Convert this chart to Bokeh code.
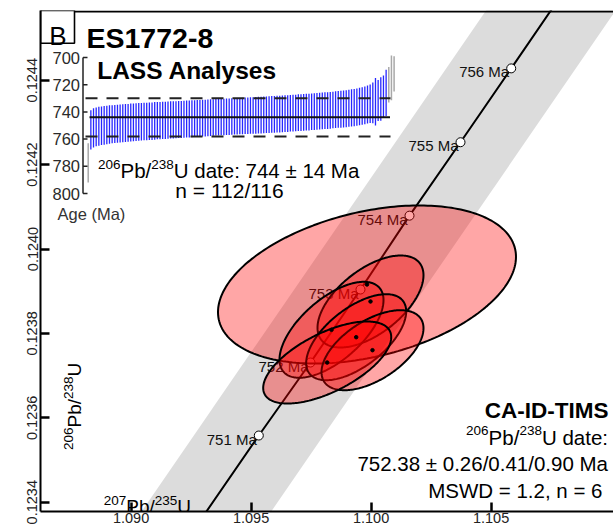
import math
import numpy as np
from bokeh.plotting import figure
from bokeh.models import Range1d, LinearAxis, Label, FixedTicker, PrintfTickFormatter
from bokeh.embed import file_html
from bokeh.resources import INLINE
from bokeh.core.properties import value

# ---------------- DATA ----------------
# CA-ID-TIMS analyses: 207Pb/235U, 2s, 206Pb/238U, 2s, rho
tims_x = [1.099829, 1.099975, 1.098350, 1.099379, 1.100058, 1.098171]
tims_sx = [0.006208, 0.002208, 0.002167, 0.002083, 0.002125, 0.002667]
tims_y = [0.1239159, 0.1238756, 0.1238085, 0.1237910, 0.1237602, 0.1237310]
tims_sy = [0.0001872, 0.0001090, 0.0001137, 0.0001019, 0.0000948, 0.0000972]
tims_rho = [0.35, 0.57, 0.62, 0.60, 0.55, 0.62]

# Concordia age markers
marker_age = [751, 752, 753, 754, 755, 756]
marker_x = [1.095321, 1.097475, 1.099558, 1.101600, 1.103725, 1.105838]
marker_y = [0.123558, 0.123731, 0.123904, 0.124079, 0.124253, 0.124428]
# concordia trace where it leaves the frame (bottom, top)
trace_x = [1.093054, 1.107575]
trace_y = [0.123371, 0.1245723]
band_halfwidth = 0.0027  # decay-constant uncertainty envelope (207/235 units)

# Axis ticks
x_ticks = [1.090, 1.095, 1.100, 1.105]
y_ticks = [0.1234, 0.1236, 0.1238, 0.1240, 0.1242, 0.1244]

# LASS ranked ages (Ma) and 2s uncertainties (accepted analyses)
lass_age = [
    753.2, 751.8, 751.0, 750.6, 750.2, 749.9, 749.6, 749.3, 749.1, 748.9,
    748.7, 748.5, 748.3, 748.1, 748.0, 747.8, 747.7, 747.5, 747.4, 747.3,
    747.1, 747.0, 746.9, 746.8, 746.6, 746.5, 746.4, 746.3, 746.2, 746.0,
    745.9, 745.8, 745.7, 745.6, 745.5, 745.4, 745.3, 745.2, 745.0, 744.9,
    744.8, 744.7, 744.6, 744.5, 744.4, 744.2, 744.1, 744.0, 743.9, 743.8,
    743.7, 743.6, 743.5, 743.4, 743.3, 743.2, 743.1, 743.0, 742.9, 742.8,
    742.7, 742.6, 742.5, 742.4, 742.3, 742.2, 742.1, 742.0, 741.9, 741.8,
    741.7, 741.6, 741.4, 741.3, 741.2, 741.0, 740.9, 740.8, 740.6, 740.5,
    740.4, 740.2, 740.1, 739.9, 739.8, 739.6, 739.5, 739.3, 739.1, 739.0,
    738.8, 738.6, 738.4, 738.2, 738.0, 737.8, 737.6, 737.3, 737.0, 736.8,
    736.5, 736.1, 735.7, 735.2, 734.6, 734.0, 733.3, 732.5, 731.6, 730.5,
    728.8, 726.0]
lass_err = [
    14.5, 14.4, 14.3, 14.3, 14.2, 14.2, 14.1, 14.1, 14.0, 14.0,
    14.0, 14.0, 14.0, 14.0, 13.9, 13.9, 13.9, 13.9, 13.9, 13.8,
    13.8, 13.8, 13.8, 13.8, 13.8, 13.7, 13.7, 13.7, 13.7, 13.7,
    13.7, 13.7, 13.6, 13.6, 13.6, 13.6, 13.6, 13.6, 13.6, 13.5,
    13.5, 13.5, 13.5, 13.5, 13.5, 13.5, 13.4, 13.4, 13.4, 13.4,
    13.4, 13.4, 13.4, 13.4, 13.4, 13.4, 13.4, 13.4, 13.4, 13.4,
    13.4, 13.4, 13.5, 13.5, 13.5, 13.5, 13.5, 13.5, 13.5, 13.5,
    13.5, 13.5, 13.5, 13.5, 13.5, 13.5, 13.5, 13.5, 13.5, 13.5,
    13.5, 13.5, 13.5, 13.5, 13.5, 13.5, 13.5, 13.5, 13.5, 13.5,
    13.5, 13.5, 13.5, 13.5, 13.6, 13.6, 13.6, 13.6, 13.7, 13.7,
    13.7, 13.8, 13.8, 13.9, 14.0, 14.2, 15.0, 17.5, 15.0, 16.0,
    15.5, 17.0]
lass_idx = list(range(2, 114))
# rejected analyses
rej_idx = [1, 114, 115, 116]
rej_age = [777.5, 720.0, 715.0, 712.0]
rej_err = [14.5, 13.0, 16.5, 13.0]
lass_mean = 744.0
lass_mean_err = 14.0
inset_ticks = [700, 720, 740, 760, 780, 800]

# ---------------- LAYOUT HELPERS ----------------
FONT = "Liberation Sans"
XA, XPX, XS = 1.090, 130.6, 24000.0   # x data <-> pixel
YA, YPX, YS = 0.1234, 501.7, 422000.0  # y data <-> pixel


def X(px):
    return XA + (px - XPX) / XS


def Y(py):
    return YA + (YPX - py) / YS


# inset (rank index / age) pixel mapping
def IX(px):
    return 1 + (px - 87.7) / 2.66


def IA(py):
    return 700 + (py - 57.0) / 1.36


p = figure(width=613, height=529, output_backend="svg", toolbar_location=None,
           x_range=Range1d(X(40), X(613)), y_range=Range1d(Y(511), Y(10)),
           min_border_left=40, min_border_right=0, min_border_top=10,
           min_border_bottom=18, x_axis_type=None, y_axis_type=None)
p.outline_line_color = None
p.background_fill_color = "white"
p.border_fill_color = "white"
p.extra_x_ranges = {"idx": Range1d(IX(40), IX(613))}
p.extra_y_ranges = {"age": Range1d(IA(511), IA(10))}

# axes
xax = LinearAxis(ticker=FixedTicker(ticks=x_ticks),
                 formatter=PrintfTickFormatter(format="%.3f"))
yax = LinearAxis(ticker=FixedTicker(ticks=y_ticks),
                 formatter=PrintfTickFormatter(format="%.4f"))
for ax in (xax, yax):
    ax.axis_line_width = 2
    ax.axis_line_color = "black"
    ax.major_tick_in = 9
    ax.major_tick_out = 0
    ax.major_tick_line_width = 2.5
    ax.minor_tick_line_color = None
    ax.major_label_text_font = FONT
    ax.major_label_text_font_size = "14.5px"
    ax.major_label_text_color = "#222222"
xax.major_label_standoff = 1
yax.major_label_standoff = 3
yax.major_label_orientation = "vertical"
p.add_layout(xax, "below")
p.add_layout(yax, "left")

# decay-constant band and concordia
conc_x = [trace_x[0]] + marker_x + [trace_x[1]]
conc_y = [trace_y[0]] + marker_y + [trace_y[1]]
band_x = [trace_x[0] - band_halfwidth, trace_x[0] + band_halfwidth,
          trace_x[1] + band_halfwidth, trace_x[1] - band_halfwidth]
band_y = [trace_y[0], trace_y[0], trace_y[1], trace_y[1]]
p.patch(band_x, band_y, fill_color="#DCDCDC", line_color=None)
p.line(conc_x, conc_y, line_color="black", line_width=2)
p.text(marker_x, marker_y, text=[f"{a} Ma" for a in marker_age],
       x_offset=-2, y_offset=3.5, text_align="right", text_baseline="alphabetic",
       text_font=value(FONT), text_font_size="15px", text_color="#111111")
p.scatter(marker_x, marker_y, size=9, fill_color="white", line_color="black",
          line_width=1)

# error ellipses
t = np.linspace(0, 2 * np.pi, 241)
exs, eys = [], []
for cx, sx, cy, sy, r in zip(tims_x, tims_sx, tims_y, tims_sy, tims_rho):
    exs.append(cx + sx * np.cos(t))
    eys.append(cy + sy * (r * np.cos(t) + np.sqrt(1 - r * r) * np.sin(t)))
p.patches(exs, eys, fill_color="#FF0000", fill_alpha=0.35, line_color="black",
          line_width=2)
p.scatter(tims_x, tims_y, size=3.5, color="black")

# top frame edge
p.segment([X(40)], [Y(11)], [X(613)], [Y(11)], line_color="black", line_width=2.2)

# ---------------- INSET (LASS) ----------------
kw = dict(x_range_name="idx", y_range_name="age")
p.segment(lass_idx, [a - e for a, e in zip(lass_age, lass_err)],
          lass_idx, [a + e for a, e in zip(lass_age, lass_err)],
          line_color="#2626FF", line_width=1.3, **kw)
p.segment(rej_idx, [a - e for a, e in zip(rej_age, rej_err)],
          rej_idx, [a + e for a, e in zip(rej_age, rej_err)],
          line_color="#A8A8A8", line_width=1.5, **kw)
p.segment([IX(89)], [lass_mean], [IX(389.5)], [lass_mean], line_color="#111111",
          line_width=2, **kw)
p.segment([IX(85), IX(85)], [lass_mean - lass_mean_err, lass_mean + lass_mean_err],
          [IX(390), IX(390)], [lass_mean - lass_mean_err, lass_mean + lass_mean_err],
          line_color="#222222", line_width=2, line_dash="12 9", **kw)
# inset age axis
ax_i = IX(82.5)
p.segment([ax_i], [inset_ticks[0]], [ax_i], [inset_ticks[-1]], line_color="#222222",
          line_width=1.5, **kw)
p.segment([ax_i] * len(inset_ticks), inset_ticks, [IX(87)] * len(inset_ticks),
          inset_ticks, line_color="#222222", line_width=1.5, **kw)
p.text([IX(79.5)] * len(inset_ticks), inset_ticks, text=[str(v) for v in inset_ticks],
       text_align="right", text_baseline="middle", text_font=value(FONT),
       text_font_size="16.5px", text_color="#2a2a2a", **kw)

# ---------------- TEXT ----------------
W = {' ': 278, '/': 278, ':': 278, '.': 278, ',': 278, '±': 584, '=': 584,
     'P': 667, 'U': 722, 'M': 833, 'b': 556, 'd': 556, 'a': 556, 't': 278, 'e': 556}


def tw(s, size):
    return sum(W.get(c, 556) for c in s) / 1000.0 * size


def label(x_px, y_px, text, size, align="left", bold=False, color="black",
          baseline="alphabetic", angle=0.0):
    p.add_layout(Label(x=X(x_px), y=Y(y_px), text=text, text_font=FONT,
                       text_font_size=f"{size}px", text_align=align,
                       text_baseline=baseline, angle=angle, text_color=color,
                       text_font_style="bold" if bold else "normal"))


def rich(pieces, x_px, y_px, align="left"):
    total = sum(tw(s, z) for s, z, r in pieces)
    cur = {"left": x_px, "right": x_px - total, "center": x_px - total / 2}[align]
    for s, z, r in pieces:
        label(cur, y_px - r, s, z)
        cur += tw(s, z)


def rich_vertical(pieces, x_px, y_px):
    cur = y_px
    for s, z, r in pieces:
        label(x_px - r, cur, s, z, angle=math.pi / 2)
        cur -= tw(s, z)


# panel letter box
p.quad(left=[X(40)], right=[X(74)], top=[Y(10)], bottom=[Y(42.7)],
       fill_color="white", line_color="black", line_width=1.6)
label(57.3, 35.5, "B", 26, align="center")
label(86, 37.7, "ES1772-8", 28.5, bold=True)
label(96.7, 70, "LASS Analyses", 24.5, bold=True)
rich([("206", 13.5, 6.5), ("Pb/", 20.5, 0), ("238", 13.5, 6.5),
      ("U date: 744 ± 14 Ma", 20.5, 0)], 228.5, 170, "center")
label(229, 189.5, "n = 112/116", 21, align="center")
label(57, 213, "Age (Ma)", 16.5, color="#333333", baseline="middle")

label(608, 410, "CA-ID-TIMS", 22.5, align="right", bold=True)
rich([("206", 13.5, 6.5), ("Pb/", 20.5, 0), ("238", 13.5, 6.5),
      ("U date:", 20.5, 0)], 607.5, 436.7, "right")
label(607.5, 463.3, "752.38 ± 0.26/0.41/0.90 Ma", 20.5, align="right")
label(602, 490, "MSWD = 1.2, n = 6", 20.5, align="right")

# axis titles (with superscripts)
rich([("207", 13.5, 6), ("Pb/", 19, 0), ("235", 13.5, 6), ("U", 19, 0)], 103.3, 506)
rich_vertical([("206", 13.5, 6.5), ("Pb/", 19, 0), ("238", 13.5, 6.5), ("U", 19, 0)],
              74, 449.5)

open("out.html", "w").write(file_html(p, INLINE))
